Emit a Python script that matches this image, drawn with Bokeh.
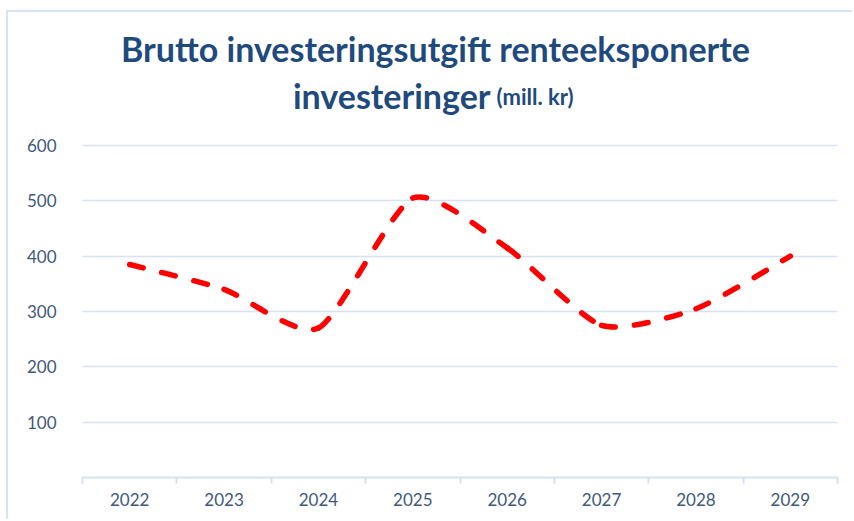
from bokeh.plotting import figure
from bokeh.models import FixedTicker, Label, Range1d
from bokeh.embed import file_html
from bokeh.resources import INLINE

# ---- data ----
years = ["2022", "2023", "2024", "2025", "2026", "2027", "2028", "2029"]
values = [385, 340, 270, 505, 415, 275, 305, 400]
y_ticks = [100, 200, 300, 400, 500, 600]

title_line1 = "Brutto investeringsutgift renteeksponerte"
title_line2 = "investeringer"
title_unit = "(mill. kr)"

FONT = "Lato"
TEXT_COLOR = "#40587C"
TITLE_COLOR = "#1F4A7E"
GRID_COLOR = "#D6E2F3"
BORDER_COLOR = "#D6E3F4"

xpos = list(range(len(years)))
n = len(xpos)

# layout (canvas pixels): canvas placed at page (8, 12) by the CSS frame
W, H = 846, 509
FL, FR, FB = 74, 829, 465          # frame left / right / bottom
PX_PER_UNIT = 332 / 600            # 600 gridline sits 332px above the axis
Y_TOP = FB / PX_PER_UNIT           # frame extends to the canvas top (title area)

p = figure(width=W, height=H, output_backend="svg", toolbar_location=None,
           x_range=Range1d(-0.5, n - 0.5), y_range=Range1d(0, Y_TOP),
           min_border_left=FL, min_border_right=W - FR, min_border_top=0,
           min_border_bottom=H - FB)
p.outline_line_color = None
p.background_fill_color = "white"
p.border_fill_color = "white"
p.styles = {"margin-left": "6px", "margin-top": "10px",
            "border-left": f"2px solid {BORDER_COLOR}",
            "border-top": f"2px solid {BORDER_COLOR}"}

# smoothed line (cubic Bezier segments through the data points)
T = 0.11

def pt(i):
    i = max(0, min(n - 1, i))
    return xpos[i], values[i]

bx0, by0, bx1, by1, cx0, cy0, cx1, cy1 = [], [], [], [], [], [], [], []
for i in range(n - 1):
    xa, ya = pt(i - 1)
    xb, yb = pt(i)
    xc, yc = pt(i + 1)
    xd, yd = pt(i + 2)
    bx0.append(xb); by0.append(yb)
    bx1.append(xc); by1.append(yc)
    cx0.append(xb + (xc - xa) * T); cy0.append(yb + (yc - ya) * T)
    cx1.append(xc - (xd - xb) * T); cy1.append(yc - (yd - yb) * T)

p.bezier(x0=bx0, y0=by0, x1=bx1, y1=by1, cx0=cx0, cy0=cy0, cx1=cx1, cy1=cy1,
         line_color="#FF0000", line_width=5.5, line_dash="14 19", line_cap="round")

# grid
p.xgrid.visible = False
p.ygrid.ticker = FixedTicker(ticks=y_ticks)
p.ygrid.grid_line_color = GRID_COLOR
p.ygrid.grid_line_width = 1.5

# y axis
p.yaxis.ticker = FixedTicker(ticks=y_ticks)
p.yaxis.axis_line_color = None
p.yaxis.major_tick_line_color = None
p.yaxis.minor_tick_line_color = None
p.yaxis.major_label_standoff = 20
p.yaxis.major_label_text_font = FONT
p.yaxis.major_label_text_font_size = "17px"
p.yaxis.major_label_text_color = TEXT_COLOR

# x axis
p.xaxis.ticker = FixedTicker(ticks=xpos, minor_ticks=[i - 0.5 for i in range(n + 1)])
p.xaxis.major_label_overrides = {i: y for i, y in zip(xpos, years)}
p.xaxis.axis_line_color = GRID_COLOR
p.xaxis.axis_line_width = 2
p.xaxis.major_tick_line_color = None
p.xaxis.major_tick_out = 0
p.xaxis.major_tick_in = 0
p.xaxis.minor_tick_line_color = GRID_COLOR
p.xaxis.minor_tick_line_width = 2
p.xaxis.minor_tick_out = 6
p.xaxis.minor_tick_in = 0
p.xaxis.major_label_standoff = 9
p.xaxis.major_label_text_font = FONT
p.xaxis.major_label_text_font_size = "17px"
p.xaxis.major_label_text_color = TEXT_COLOR

# title (two lines, second line with smaller unit text); offsets from frame left/bottom
p.add_layout(Label(x=427 - FL, y=FB - 36, x_units="screen", y_units="screen",
                   text=title_line1, text_align="center", text_baseline="alphabetic",
                   text_font=FONT, text_font_style="bold", text_font_size="34px",
                   text_color=TITLE_COLOR))
p.add_layout(Label(x=482 - FL, y=FB - 83, x_units="screen", y_units="screen",
                   text=title_line2, text_align="right", text_baseline="alphabetic",
                   text_font=FONT, text_font_style="bold", text_font_size="34px",
                   text_color=TITLE_COLOR))
p.add_layout(Label(x=488 - FL, y=FB - 84, x_units="screen", y_units="screen",
                   text=title_unit, text_align="left", text_baseline="alphabetic",
                   text_font=FONT, text_font_style="bold", text_font_size="22px",
                   text_color=TITLE_COLOR))

open("out.html", "w").write(file_html(p, INLINE))
